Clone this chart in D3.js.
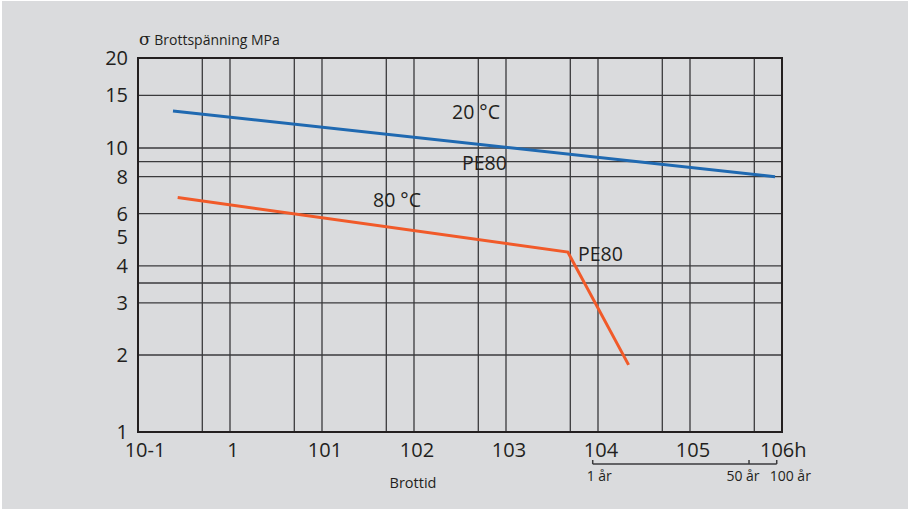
<!DOCTYPE html>
<html>
<head>
<meta charset="utf-8">
<script src="https://cdn.jsdelivr.net/npm/d3@7"></script>
<style>
  html, body { margin: 0; padding: 0; background: #fff; }
  #chart { width: 908px; height: 509px; }
  text { font-family: "Open Sans", "Noto Sans", sans-serif; fill: #231f20; }
</style>
</head>
<body>
<div id="chart"></div>
<script>
// y gridlines and tick labels (MPa)
var yGrid = [2, 3, 3.5, 4, 6, 8, 9, 10, 15];
var yTicks = [1, 2, 3, 4, 5, 6, 8, 10, 15, 20];

// x gridlines and tick labels (hours)
var xGrid = [0.5, 1, 5, 10, 50, 100, 500, 1000, 5000, 10000, 50000, 100000, 500000];
var xTicks = [0.1, 1, 10, 100, 1000, 10000, 100000, 1000000];
var xTickLabels = ["10-1", "1", "101", "102", "103", "104", "105", "106h"];

// years scale under the axis
var yearMarks = [1, 50, 100];
var yearLabels = ["1 år", "50 år", "100 år"];

// curves: time (h), stress (MPa)
var pe20t = [0.24, 840000];
var pe20s = [13.3, 8.0];
var pe80t = [0.27, 4700, 21500];
var pe80s = [6.8, 4.45, 1.83];

var visualize = function() {
  var W = 908, H = 509;
  var blue = "#1f69b1", orange = "#f15a29";

  var svg = d3.select("#chart").append("svg")
    .attr("width", W).attr("height", H);

  svg.append("rect").attr("x", 2).attr("y", 1).attr("width", W - 2).attr("height", H - 1)
    .attr("fill", "#dadbdd");

  var x = d3.scaleLog().domain([0.1, 1e6]).range([138, 782]);
  // the printed stress axis is slightly squeezed below 2 MPa
  var y = d3.scaleLog().domain([1, 2, 10, 20]).range([432, 355, 148, 58]);

  var grid = svg.append("g").attr("stroke", "#3a3a3c").attr("stroke-width", 1.3);

  grid.selectAll(".hg").data(yGrid).enter().append("line")
    .attr("x1", x(0.1)).attr("x2", x(1e6))
    .attr("y1", function(d) { return y(d); })
    .attr("y2", function(d) { return y(d); });

  grid.selectAll(".vg").data(xGrid).enter().append("line")
    .attr("y1", y(1)).attr("y2", y(20))
    .attr("x1", function(d) { return x(d); })
    .attr("x2", function(d) { return x(d); });

  // frame
  svg.append("rect")
    .attr("x", x(0.1)).attr("y", y(20))
    .attr("width", x(1e6) - x(0.1)).attr("height", y(1) - y(20))
    .attr("fill", "none").attr("stroke", "#231f20").attr("stroke-width", 2);

  // y labels
  svg.selectAll(".yl").data(yTicks).enter().append("text")
    .attr("x", 128).attr("y", function(d) { return y(d) + 7; })
    .attr("text-anchor", "end").attr("font-size", 20)
    .text(function(d) { return d; });

  // x labels
  svg.selectAll(".xl").data(xTicks).enter().append("text")
    .attr("x", function(d) { return x(d); })
    .attr("y", 457)
    .attr("text-anchor", function(d, i) { return i == xTicks.length - 1 ? "start" : "middle"; })
    .attr("font-size", 20)
    .attr("dx", function(d, i) {
      if (i == 0) return 7;
      if (i == xTicks.length - 1) return -22;
      return 3;
    })
    .text(function(d, i) { return xTickLabels[i]; });

  // axis titles
  var ttl = svg.append("text").attr("x", 139).attr("y", 45).attr("font-size", 14);
  ttl.append("tspan").attr("font-size", 17).attr("font-family", "DejaVu Serif").text("σ");
  ttl.append("tspan").text(" Brottspänning MPa");
  svg.append("text").attr("x", 413).attr("y", 488).attr("font-size", 14.5)
    .attr("text-anchor", "middle").text("Brottid");

  // years bracket
  var yx = function(d) { return x(d * 8760); };
  var by = 464;
  var br = svg.append("g").attr("stroke", "#3a3a3c").attr("stroke-width", 1.5);
  br.append("line").attr("x1", yx(1)).attr("x2", yx(100)).attr("y1", by).attr("y2", by);
  br.selectAll(".bt").data(yearMarks).enter().append("line")
    .attr("x1", function(d) { return yx(d); }).attr("x2", function(d) { return yx(d); })
    .attr("y1", by).attr("y2", by - 4);
  svg.selectAll(".yrl").data(yearMarks).enter().append("text")
    .attr("x", function(d) { return yx(d); })
    .attr("y", 481).attr("font-size", 14)
    .attr("text-anchor", function(d, i) { return i == 1 ? "middle" : "start"; })
    .attr("dx", function(d, i) { return i == 0 ? -6 : (i == 1 ? -6 : -7); })
    .text(function(d, i) { return yearLabels[i]; });

  // curves
  var line = d3.line()
    .x(function(d) { return x(d[0]); })
    .y(function(d) { return y(d[1]); });

  svg.append("path")
    .datum(d3.zip(pe20t, pe20s))
    .attr("d", line).attr("fill", "none")
    .attr("stroke", blue).attr("stroke-width", 3);

  svg.append("path")
    .datum(d3.zip(pe80t, pe80s))
    .attr("d", line).attr("fill", "none")
    .attr("stroke", orange).attr("stroke-width", 3)
    .attr("stroke-linejoin", "miter");

  // curve labels
  var lab = [
    { t: "20 °C", x: 452, y: 119 },
    { t: "PE80", x: 462, y: 170 },
    { t: "80 °C", x: 373, y: 207 },
    { t: "PE80", x: 578, y: 261 }
  ];
  svg.selectAll(".cl").data(lab).enter().append("text")
    .attr("x", function(d) { return d.x; }).attr("y", function(d) { return d.y; })
    .attr("font-size", 19.5)
    .text(function(d) { return d.t; });
};

visualize();
</script>
</body>
</html>
